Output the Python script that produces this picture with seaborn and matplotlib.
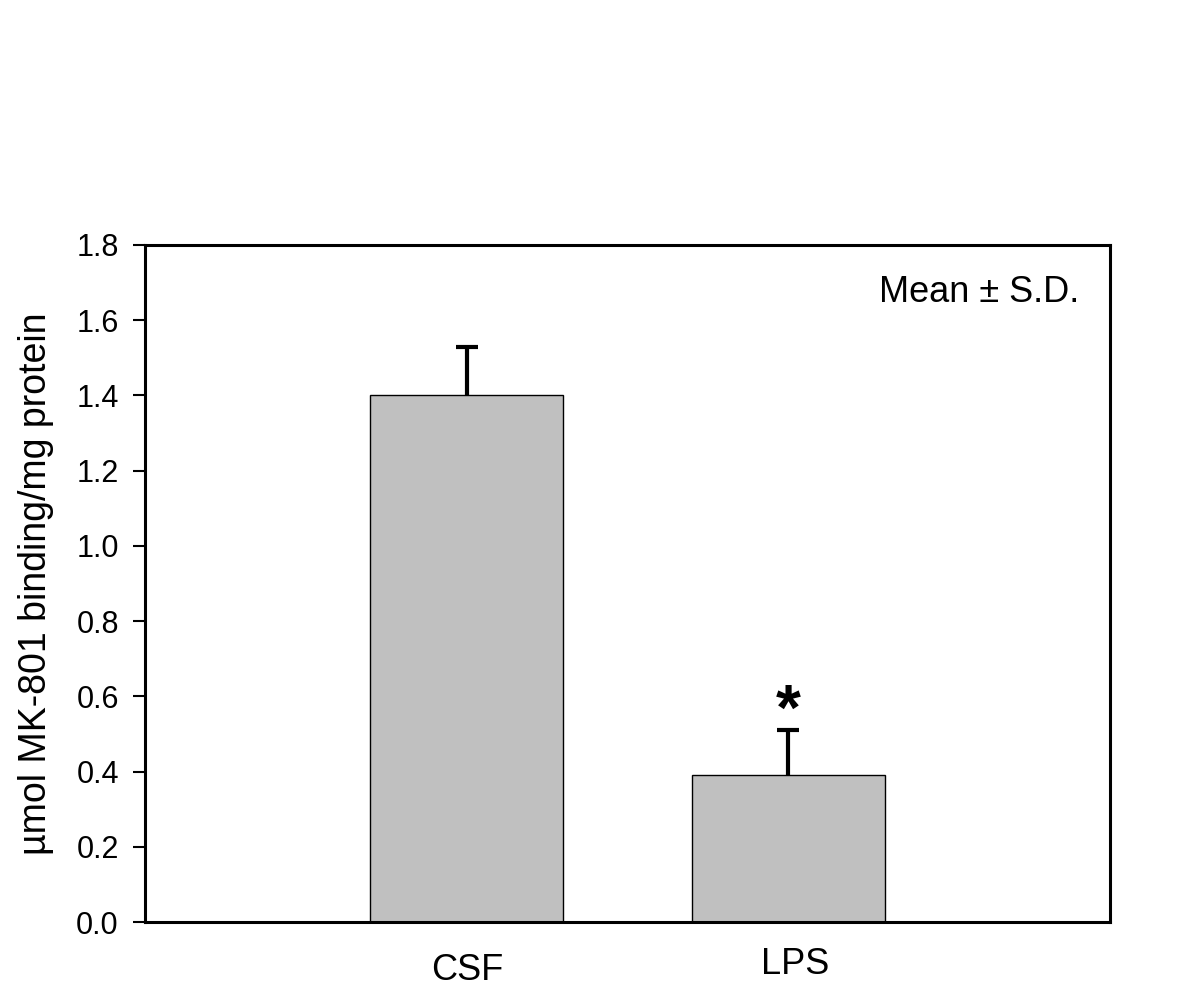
import matplotlib
matplotlib.use("Agg")
import matplotlib.pyplot as plt
import matplotlib.transforms as mtransforms
import seaborn as sns
import pandas as pd

groups = ["CSF", "LPS"]
means = [1.40, 0.39]
sds = [0.13, 0.12]

sns.set_style("white")
plt.rcParams['font.family'] = ['Liberation Sans', 'DejaVu Sans']
plt.rcParams['text.color'] = 'black'
plt.rcParams['axes.labelcolor'] = 'black'
plt.rcParams['xtick.color'] = 'black'
plt.rcParams['ytick.color'] = 'black'

df = pd.DataFrame({"group": groups, "mean": means})

fig = plt.figure(figsize=(12, 10), dpi=100)
ax = fig.add_axes([0.121, 0.078, 0.804, 0.677])

sns.barplot(data=df, x="group", y="mean", color="#c0c0c0", width=0.6,
            edgecolor="black", linewidth=1.0, saturation=1, errorbar=None, ax=ax)

# one sided error bars (upper only)
eb = ax.errorbar(range(len(groups)), means, yerr=[[0] * len(sds), sds], fmt="none",
                 ecolor="black", elinewidth=3, capsize=8, capthick=3, zorder=3)
eb[1][0].set_visible(False)  # hide lower caps

# significance marker
ax.text(1, 0.637, "*", ha="center", va="top", fontsize=46, fontweight="bold")

ax.text(0.968, 0.93, "Mean ± S.D.", transform=ax.transAxes, ha="right", va="center",
        fontsize=26)

ax.set_xlim(-1, 2)
ax.set_ylim(0, 1.8)
ax.set_yticks([0.0, 0.2, 0.4, 0.6, 0.8, 1.0, 1.2, 1.4, 1.6, 1.8])
ax.set_yticklabels([f"{v:.1f}" for v in ax.get_yticks()])
ax.set_xlabel("")
ax.set_ylabel("µmol MK-801 binding/mg protein", fontsize=27, labelpad=16)
ax.tick_params(axis="y", direction="out", length=9, width=1.5, labelsize=22, pad=10, left=True)
ax.tick_params(axis="x", length=0, labelsize=26, pad=22)

# LPS label sits a little higher and to the right in the original
lbl = ax.get_xticklabels()[1]
lbl.set_transform(lbl.get_transform() + mtransforms.ScaledTranslation(5 / 72, 4 / 72, fig.dpi_scale_trans))

for s in ax.spines.values():
    s.set_visible(True)
    s.set_color("black")
    s.set_linewidth(2.2)

fig.savefig("out.png", dpi=100)
